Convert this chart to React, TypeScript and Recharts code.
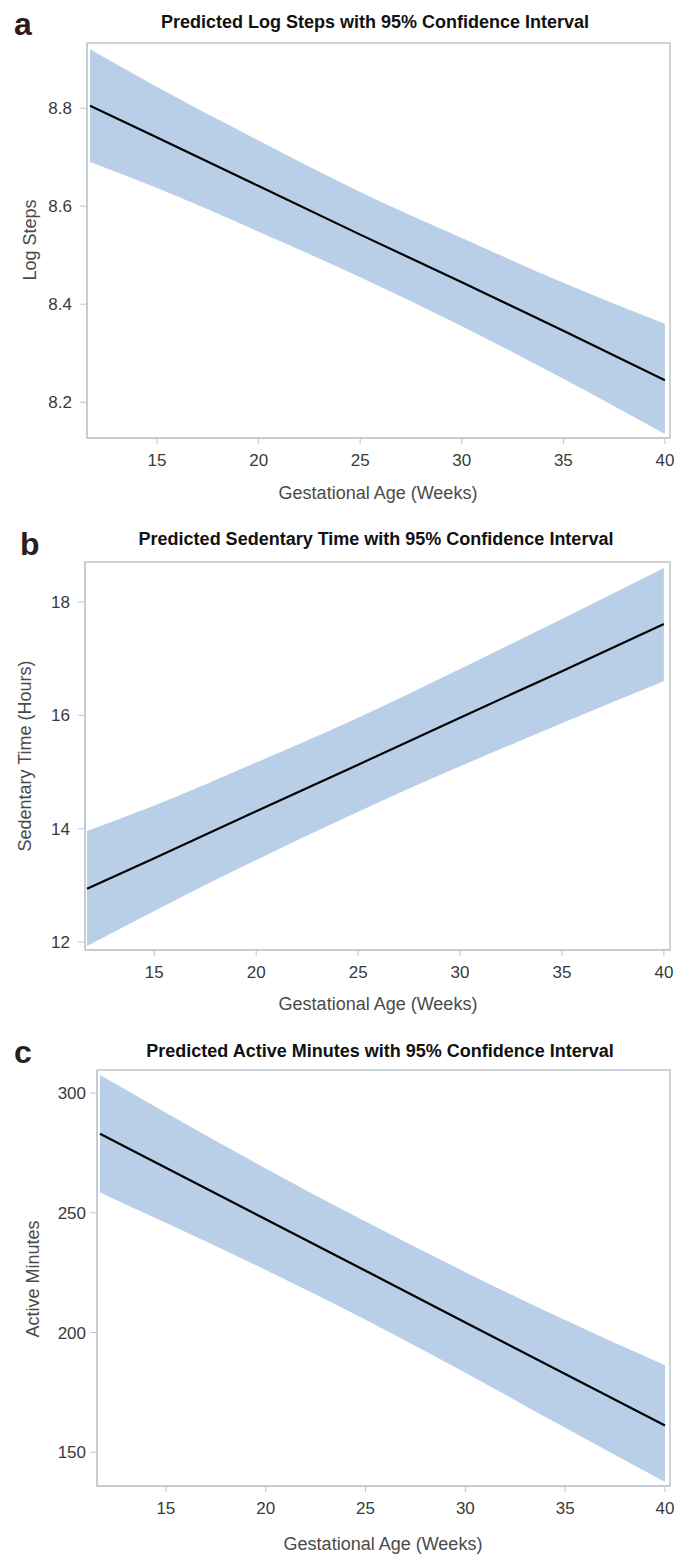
import { ComposedChart, Area, Line, XAxis, YAxis, ReferenceArea } from 'recharts';

// gestational age (weeks) where the fitted values were read
const weeks = [11.7, 15, 20, 25, 30, 35, 40];
const xTicks = [15, 20, 25, 30, 35, 40];

// a: log steps
const stepsFit = [8.805, 8.740, 8.641, 8.542, 8.445, 8.346, 8.245];
const stepsLower = [8.690, 8.637, 8.548, 8.455, 8.355, 8.248, 8.135];
const stepsUpper = [8.920, 8.843, 8.734, 8.629, 8.535, 8.444, 8.360];
const stepsTicks = [8.2, 8.4, 8.6, 8.8];

// b: sedentary time (hours)
const sedFit = [12.94, 13.48, 14.31, 15.13, 15.96, 16.78, 17.61];
const sedLower = [11.93, 12.55, 13.45, 14.30, 15.10, 15.86, 16.60];
const sedUpper = [13.96, 14.41, 15.17, 15.96, 16.82, 17.70, 18.60];
const sedTicks = [12, 14, 16, 18];

// c: active minutes
const actFit = [283.0, 268.8, 247.3, 225.8, 204.2, 182.7, 161.2];
const actLower = [258.5, 245.8, 226.1, 205.3, 183.2, 160.2, 137.6];
const actUpper = [307.5, 291.8, 268.5, 246.3, 225.2, 205.2, 186.3];
const actTicks = [150, 200, 250, 300];

const BAND = '#b9cfe8';
const FRAME = '#bfc5cb';
const TICK_TEXT = '#3a3a3a';
const LABEL_TEXT = '#4a4a4a';
const FONT = '"Liberation Sans", Arial, sans-serif';

const build = (fit: number[], lo: number[], hi: number[]) =>
  weeks.map((w, i) => ({ week: w, fit: fit[i], band: [lo[i], hi[i]] }));

interface PanelProps {
  top: number;
  height: number;
  marginTop: number;
  plotLeft: number;
  xDomain: [number, number];
  yDomain: [number, number];
  yTicks: number[];
  digits: number;
  tickGap: number;
  data: { week: number; fit: number; band: number[] }[];
}

const Panel = ({ top, height, marginTop, plotLeft, xDomain, yDomain, yTicks, digits, tickGap, data }: PanelProps) => (
  <div style={{ position: 'absolute', left: 0, top }}>
    <ComposedChart
      width={681}
      height={height}
      data={data}
      margin={{ top: marginTop, right: 11, bottom: 0, left: 0 }}
    >
      <XAxis
        type="number"
        dataKey="week"
        domain={xDomain}
        ticks={xTicks}
        allowDataOverflow
        height={72}
        stroke={FRAME}
        tickSize={6}
        tickMargin={10}
        tick={{ fill: TICK_TEXT, fontSize: 17, fontFamily: FONT }}
      />
      <YAxis
        type="number"
        domain={yDomain}
        ticks={yTicks}
        allowDataOverflow
        width={plotLeft}
        stroke={FRAME}
        tickSize={7}
        tickMargin={tickGap}
        tickFormatter={(v: number) => v.toFixed(digits)}
        tick={{ fill: TICK_TEXT, fontSize: 17, fontFamily: FONT }}
      />
      <Area
        type="monotone"
        dataKey="band"
        fill={BAND}
        fillOpacity={1}
        stroke="none"
        isAnimationActive={false}
      />
      <Line
        type="linear"
        dataKey="fit"
        stroke="#000"
        strokeWidth={2.2}
        dot={false}
        isAnimationActive={false}
      />
      <ReferenceArea
        x1={xDomain[0]}
        x2={xDomain[1]}
        y1={yDomain[0]}
        y2={yDomain[1]}
        fill="none"
        stroke={FRAME}
        strokeWidth={1.5}
        ifOverflow="visible"
      />
    </ComposedChart>
  </div>
);

const titleStyle = { fontFamily: FONT, fontWeight: 700, fontSize: 18, fill: '#111' };
const letterStyle = { fontFamily: FONT, fontWeight: 700, fontSize: 32, fill: '#2e1b1b' };
const axisStyle = { fontFamily: FONT, fontSize: 18, fill: LABEL_TEXT };

export default function App() {
  return (
    <div style={{ position: 'absolute', left: 0, top: 0, width: 681, height: 1558, background: '#fff' }}>
      <Panel
        top={0}
        height={510}
        marginTop={43}
        plotLeft={87}
        xDomain={[11.55, 40.25]}
        yDomain={[8.127, 8.933]}
        yTicks={stepsTicks}
        digits={1}
        tickGap={8}
        data={build(stepsFit, stepsLower, stepsUpper)}
      />
      <Panel
        top={520}
        height={502}
        marginTop={42}
        plotLeft={85}
        xDomain={[11.6, 40.3]}
        yDomain={[11.86, 18.706]}
        yTicks={sedTicks}
        digits={0}
        tickGap={8}
        data={build(sedFit, sedLower, sedUpper)}
      />
      <Panel
        top={1030}
        height={528}
        marginTop={40}
        plotLeft={97}
        xDomain={[11.55, 40.25]}
        yDomain={[135.9, 309.6]}
        yTicks={actTicks}
        digits={0}
        tickGap={4}
        data={build(actFit, actLower, actUpper)}
      />
      <svg width={681} height={1558} style={{ position: 'absolute', left: 0, top: 0, pointerEvents: 'none' }}>
        <text x={14} y={35} style={letterStyle}>a</text>
        <text x={375} y={28} textAnchor="middle" style={titleStyle}>Predicted Log Steps with 95% Confidence Interval</text>
        <text x={30} y={240} textAnchor="middle" dominantBaseline="central" transform="rotate(-90 30 240)" style={axisStyle}>Log Steps</text>
        <text x={378} y={499} textAnchor="middle" style={axisStyle}>Gestational Age (Weeks)</text>

        <text x={20} y={555} style={letterStyle}>b</text>
        <text x={376} y={545} textAnchor="middle" style={titleStyle}>Predicted Sedentary Time with 95% Confidence Interval</text>
        <text x={25} y={756} textAnchor="middle" dominantBaseline="central" transform="rotate(-90 25 756)" style={axisStyle}>Sedentary Time (Hours)</text>
        <text x={378} y={1010} textAnchor="middle" style={axisStyle}>Gestational Age (Weeks)</text>

        <text x={14} y={1063} style={letterStyle}>c</text>
        <text x={380} y={1057} textAnchor="middle" style={titleStyle}>Predicted Active Minutes with 95% Confidence Interval</text>
        <text x={33} y={1279} textAnchor="middle" dominantBaseline="central" transform="rotate(-90 33 1279)" style={axisStyle}>Active Minutes</text>
        <text x={383} y={1550} textAnchor="middle" style={axisStyle}>Gestational Age (Weeks)</text>
      </svg>
    </div>
  );
}
